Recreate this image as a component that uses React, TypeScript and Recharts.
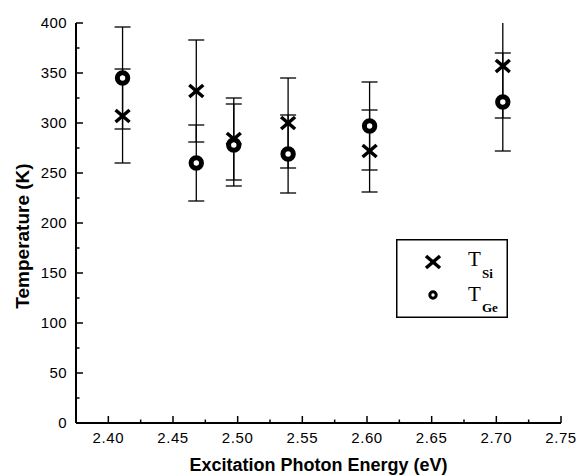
import { ScatterChart, Scatter, XAxis, YAxis, ErrorBar, Legend } from 'recharts';

// excitation photon energy (eV) of each measurement
const energies = [2.411, 2.468, 2.497, 2.539, 2.602, 2.705];
// T_Si (crosses) and its error
const tSi = [307, 332, 284, 300, 272, 357];
const tSiErr = [47, 51, 41, 45, 41, 52];
// T_Ge (circles) and its error
const tGe = [345, 260, 278, 269, 297, 321];
const tGeErr = [51, 38, 41, 39, 44, 49];

const xTicks = [2.4, 2.425, 2.45, 2.475, 2.5, 2.525, 2.55, 2.575, 2.6, 2.625, 2.65, 2.675, 2.7, 2.725, 2.75];
const yTicks = [0, 25, 50, 75, 100, 125, 150, 175, 200, 225, 250, 275, 300, 325, 350, 375, 400];

const siData = energies.map((x, i) => ({ x, y: tSi[i], err: tSiErr[i] }));
const geData = energies.map((x, i) => ({ x, y: tGe[i], err: tGeErr[i] }));

const SANS = '"Liberation Sans", Arial, sans-serif';
const SERIF = '"Liberation Serif", "Times New Roman", serif';

// plot box, used only to clip the error bars that run past 400 K
const PLOT = { left: 76, top: 23, width: 485, height: 400 };

function CrossMark({ cx, cy }: any) {
  if (cx == null || cy == null) return null;
  return (
    <g stroke="#000" strokeWidth={3.5}>
      <line x1={cx - 7} y1={cy - 6} x2={cx + 7} y2={cy + 6} />
      <line x1={cx - 7} y1={cy + 6} x2={cx + 7} y2={cy - 6} />
    </g>
  );
}

function RingMark({ cx, cy }: any) {
  if (cx == null || cy == null) return null;
  return <circle cx={cx} cy={cy} r={5.2} fill="#fff" stroke="#000" strokeWidth={5} />;
}

function XTick({ x, y, payload }: any) {
  const v = payload.value;
  const major = Math.round(v * 1000) % 50 === 0;
  return (
    <g>
      <line x1={x} x2={x} y1={y} y2={y - (major ? 7 : 3.5)} stroke="#000" strokeWidth={1.5} />
      {major && (
        <text x={x} y={y + 20} textAnchor="middle" fontFamily={SANS} fontSize={15} letterSpacing={0.6} fill="#000">
          {v.toFixed(2)}
        </text>
      )}
    </g>
  );
}

function YTick({ x, y, payload }: any) {
  const v = payload.value;
  const major = v % 50 === 0;
  return (
    <g>
      <line x1={x} x2={x + (major ? 7 : 3.5)} y1={y} y2={y} stroke="#000" strokeWidth={1.5} />
      {major && (
        <text x={x - 9} y={y} dy="0.36em" textAnchor="end" fontFamily={SANS} fontSize={15} letterSpacing={0.4} fill="#000">
          {v}
        </text>
      )}
    </g>
  );
}

function YTitle() {
  return (
    <text
      transform="translate(22.5, 236) rotate(-90)"
      textAnchor="middle"
      dominantBaseline="central"
      fontFamily={SANS}
      fontSize={19}
      fontWeight="bold"
      fill="#000"
    >
      Temperature (K)
    </text>
  );
}

function LegendBox() {
  return (
    <svg width={112} height={79} style={{ display: 'block' }}>
      <rect x={0.75} y={0.75} width={110.5} height={77.5} fill="#fff" stroke="#000" strokeWidth={1.5} />
      <CrossMark cx={37} cy={23} />
      <circle cx={37} cy={56} r={3.2} fill="#fff" stroke="#000" strokeWidth={3} />
      <text x={72} y={27} fontFamily={SERIF} fontSize={21} fill="#000">T</text>
      <text x={86} y={39} fontFamily={SERIF} fontSize={13} fontWeight="bold" fill="#000">Si</text>
      <text x={72} y={62} fontFamily={SERIF} fontSize={21} fill="#000">T</text>
      <text x={86} y={73} fontFamily={SERIF} fontSize={13} fontWeight="bold" fill="#000">Ge</text>
    </svg>
  );
}

export default function App() {
  return (
    <div style={{ position: 'absolute', left: 0, top: 0, width: 577, height: 476, background: '#fff' }}>
      <style>{'.recharts-errorBar { clip-path: url(#plotClip); }'}</style>
      <svg width={0} height={0} style={{ position: 'absolute' }}>
        <defs>
          <clipPath id="plotClip" clipPathUnits="userSpaceOnUse">
            <rect x={PLOT.left} y={PLOT.top} width={PLOT.width} height={PLOT.height} />
          </clipPath>
        </defs>
      </svg>
      <ScatterChart width={577} height={476} margin={{ top: 23, right: 16, bottom: 0, left: 0 }}>
        <XAxis
          type="number"
          dataKey="x"
          domain={[2.375, 2.75]}
          allowDataOverflow
          ticks={xTicks}
          interval={0}
          height={53}
          tickSize={0}
          tickMargin={0}
          tickLine={false}
          tick={<XTick />}
          axisLine={{ stroke: '#000', strokeWidth: 2 }}
          label={{
            value: 'Excitation Photon Energy (eV)',
            position: 'insideBottom',
            offset: 5,
            style: { fontFamily: SANS, fontSize: 18, fontWeight: 'bold', fill: '#000' },
          }}
        />
        <YAxis
          type="number"
          dataKey="y"
          domain={[0, 400]}
          allowDataOverflow
          ticks={yTicks}
          interval={0}
          width={76}
          tickSize={0}
          tickMargin={0}
          tickLine={false}
          tick={<YTick />}
          axisLine={{ stroke: '#000', strokeWidth: 2 }}
          label={{ content: () => <YTitle /> }}
        />
        <Legend
          layout="vertical"
          align="center"
          verticalAlign="middle"
          content={() => <LegendBox />}
          wrapperStyle={{ left: 396, top: 239, width: 112, height: 79 }}
        />
        <Scatter name="TGe" data={geData} shape={<RingMark />} isAnimationActive={false}>
          <ErrorBar dataKey="err" direction="y" width={8} stroke="#000" strokeWidth={1.3} isAnimationActive={false} />
        </Scatter>
        <Scatter name="TSi" data={siData} shape={<CrossMark />} isAnimationActive={false}>
          <ErrorBar dataKey="err" direction="y" width={8} stroke="#000" strokeWidth={1.3} isAnimationActive={false} />
        </Scatter>
      </ScatterChart>
    </div>
  );
}
